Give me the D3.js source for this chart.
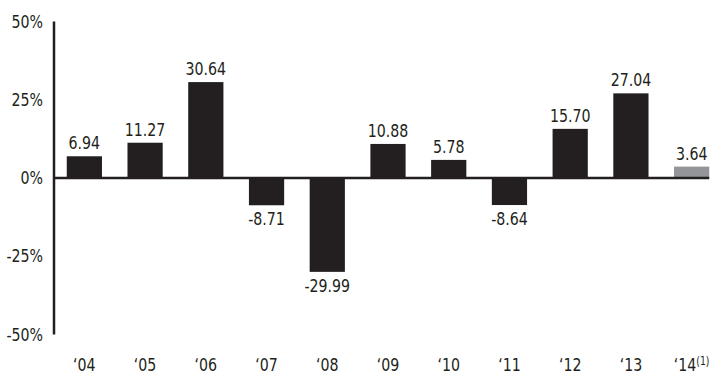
<!DOCTYPE html>
<html>
<head>
<meta charset="utf-8">
<script src="https://cdn.jsdelivr.net/npm/d3@7"></script>
<style>
	body { margin: 0; background: #fff; }
	text { font-family: "Liberation Sans Narrow", "DejaVu Sans Condensed", sans-serif; fill: #231f20; }
</style>
</head>
<body>
<svg id="viz"></svg>
<script>
// chart values
const years = ["‘04", "‘05", "‘06", "‘07", "‘08", "‘09", "‘10", "‘11", "‘12", "‘13", "‘14"];
const returns = [6.94, 11.27, 30.64, -8.71, -29.99, 10.88, 5.78, -8.64, 15.70, 27.04, 3.64];
const yTicks = [50, 25, 0, -25, -50];
const footnoteYear = "‘14";

const width = 715;
const height = 374;
const fontSize = 17.5;

const svg = d3.select("svg#viz")
	.attr("width", width)
	.attr("height", height);

const data = years.map((d, i) => ({ year: d, value: returns[i] }));

// x band, bars are ~35px wide on ~61px step
const x = d3.scaleBand()
	.domain(years)
	.range([54, 722])
	.paddingInner(0.42)
	.paddingOuter(0.21);

const y = d3.scaleLinear()
	.domain([-50, 50])
	.range([334.5, 21.5]);

const dark = "#231f20";
const grey = "#939598";

// bars
svg.append("g").attr("id", "bars")
	.selectAll("rect")
	.data(data)
	.join("rect")
	.attr("x", d => x(d.year))
	.attr("width", x.bandwidth())
	.attr("y", d => y(Math.max(0, d.value)))
	.attr("height", d => Math.abs(y(d.value) - y(0)))
	.attr("fill", d => d.year == footnoteYear ? grey : dark);

// zero line
svg.append("line")
	.attr("x1", 54)
	.attr("x2", x(years[years.length - 1]) + x.bandwidth())
	.attr("y1", y(0))
	.attr("y2", y(0))
	.attr("stroke", dark)
	.attr("stroke-width", 2.5);

// y axis line
svg.append("line")
	.attr("x1", 54)
	.attr("x2", 54)
	.attr("y1", y(50))
	.attr("y2", y(-50))
	.attr("stroke", dark)
	.attr("stroke-width", 2.5);

// y tick labels
svg.append("g").attr("id", "y-labels")
	.selectAll("text")
	.data(yTicks)
	.join("text")
	.attr("transform", d => narrow(43, y(d) + 6))
	.attr("text-anchor", "end")
	.attr("font-size", fontSize)
	.text(d => d + "%");

// value labels
svg.append("g").attr("id", "value-labels")
	.selectAll("text")
	.data(data)
	.join("text")
	.attr("transform", d => narrow(x(d.year) + x.bandwidth() / 2,
		d.value >= 0 ? y(d.value) - 7 : y(d.value) + 20))
	.attr("text-anchor", "middle")
	.attr("font-size", fontSize)
	.text(d => d.value.toFixed(2));

// x labels
const xl = svg.append("g").attr("id", "x-labels")
	.selectAll("text")
	.data(years)
	.join("text")
	.attr("transform", d => narrow(x(d) + x.bandwidth() / 2, 371))
	.attr("text-anchor", "middle")
	.attr("font-size", fontSize)
	.text(d => d);

xl.filter(d => d == footnoteYear)
	.append("tspan")
	.attr("dy", -6)
	.attr("font-size", 11.5)
	.text("(1)");

// helper: the original uses a condensed face, so squeeze the text a bit
function narrow(px, py) {
	return "translate(" + px + "," + py + ") scale(0.9,1)";
}
</script>
</body>
</html>
